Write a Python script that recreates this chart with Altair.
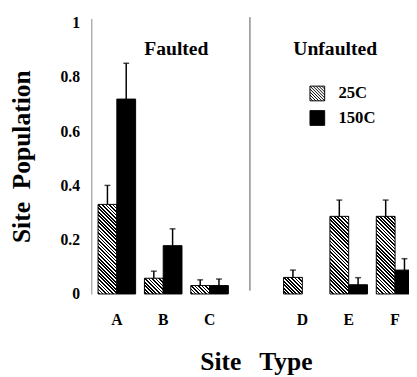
import altair as alt

# ---- data ----
sites = ["A", "B", "C", "D", "E", "F"]
temps = ["25C", "150C"]
pop_25 = [0.33, 0.058, 0.031, 0.061, 0.286, 0.286]
err_25 = [0.07, 0.026, 0.021, 0.027, 0.06, 0.06]
pop_150 = [0.718, 0.178, 0.031, 0.0, 0.034, 0.088]
err_150 = [0.132, 0.062, 0.024, 0.0, 0.026, 0.042]
site_order = ["A", "B", "C", "gap", "D", "E", "F"]
y_ticks = [0, 0.2, 0.4, 0.6, 0.8, 1]

# ---- layout / style ----
SERIF = "Liberation Serif"
W, H = 324, 281
YMAX = 1.015
STEP = 47.3
R0 = 2.35
PAD_IN = 0.19
BAR_W = STEP * (1 - PAD_IN) / 2
PERIOD = 2.55  # hatch period (perpendicular px)


def hatch_gradient(v):
    h = max(v * H / YMAX, 1.0)
    w = BAR_W
    k = (w + h) / (w * w + h * h)
    n = (w + h) / (2 ** 0.5 * PERIOD)
    stops = []
    i = 0
    while i / n < 1:
        a = i / n
        b = min((i + 0.5) / n, 1)
        c = min((i + 1) / n, 1)
        stops += [{"offset": a, "color": "black"}, {"offset": b, "color": "black"},
                  {"offset": b, "color": "white"}, {"offset": c, "color": "white"}]
        i += 1
    return {"gradient": "linear", "x1": 1, "y1": 0, "x2": 1 - k * w, "y2": k * h,
            "stops": stops}


records = []
for s, p25, e25, p150, e150 in zip(sites, pop_25, err_25, pop_150, err_150):
    records.append({"site": s, "temp": "25C", "pop": p25, "err": e25,
                    "top": p25 + e25, "fill": hatch_gradient(p25)})
    records.append({"site": s, "temp": "150C", "pop": p150, "err": e150,
                    "top": p150 + e150, "fill": "black"})

# legend hatch symbol path
segs = ["M-1,-1H1V1H-1Z"]
c = -1.6
while c < 1.61:
    x0 = max(-1, -1 - c)
    x1 = min(1, 1 - c)
    segs.append(f"M{x0:.3f},{x0 + c:.3f}L{x1:.3f},{x1 + c:.3f}")
    c += 0.4
HATCH_PATH = "".join(segs)

xscale = alt.Scale(domain=site_order, range=[R0, R0 + 7 * STEP],
                   paddingInner=PAD_IN, paddingOuter=PAD_IN / 2)
xaxis = alt.Axis(labelExpr="datum.value == 'gap' ? '' : datum.value",
                 domain=False, ticks=False, tickSize=0, labelAngle=0,
                 labelFont=SERIF, labelFontSize=16, labelFontWeight="bold",
                 labelColor="black", labelPadding=18,
                 titleFont=SERIF, titleFontSize=26, titleFontWeight="bold",
                 titleColor="black", titleY=77, titleBaseline="alphabetic")
XT = "Site\u00a0\u00a0\u2009Type"
yscale = alt.Scale(domain=[0, YMAX], nice=False)
yaxis = alt.Axis(values=y_ticks, format=".1~f", ticks=False, tickSize=0,
                 grid=False, domainColor="#888", domainWidth=1,
                 labelFont=SERIF, labelFontSize=16, labelFontWeight="bold",
                 labelColor="black", labelPadding=12,
                 titleFont=SERIF, titleFontSize=26, titleFontWeight="bold",
                 titleColor="black", titleX=-63, titleBaseline="alphabetic")
YT = "Site\u00a0\u00a0Population"

X = alt.X("site:N", scale=xscale, axis=xaxis, title=XT)
XO = alt.XOffset("temp:N", scale=alt.Scale(domain=temps))

base = alt.Chart(alt.Data(values=records))

bars = base.mark_bar(stroke="black", strokeWidth=1).encode(
    x=X, xOffset=XO,
    y=alt.Y("pop:Q", scale=yscale, axis=yaxis, title=YT),
    fill=alt.Fill("fill:N", scale=None),
).transform_filter("datum.pop > 0")

err_lines = base.mark_rule(color="black", strokeWidth=1.5).encode(
    x=X, xOffset=XO,
    y=alt.Y("pop:Q", scale=yscale, axis=yaxis, title=YT),
    y2="top:Q",
).transform_filter("datum.err > 0")

caps = base.mark_tick(color="black", thickness=1.5, size=6, orient="horizontal").encode(
    x=X, xOffset=XO,
    y=alt.Y("top:Q", scale=yscale, axis=yaxis, title=YT),
).transform_filter("datum.err > 0")

divider = alt.Chart(alt.Data(values=[{"site": "gap"}])).mark_rule(
    color="#555", strokeWidth=1).encode(
    x=alt.X("site:N", scale=xscale, axis=xaxis, title=XT, bandPosition=0.34),
    y=alt.datum(1.02), y2=alt.datum(0.012),
)


def label_layer(site, text, bandpos):
    return alt.Chart(alt.Data(values=[{"site": site, "label": text}])).mark_text(
        font=SERIF, fontSize=20, fontWeight="bold", color="black",
        baseline="alphabetic", align="center").encode(
        x=alt.X("site:N", scale=xscale, axis=xaxis, title=XT, bandPosition=bandpos),
        y=alt.datum(0.88),
        text="label:N",
    )


faulted = label_layer("B", "Faulted", 0.85)
unfaulted = label_layer("E", "Unfaulted", 0.14)

leg = alt.Legend(orient="none", legendX=222, legendY=68, title=None,
                 labelFont=SERIF, labelFontSize=17, labelFontWeight="bold",
                 labelColor="black", symbolSize=225, labelOffset=13,
                 rowPadding=6, symbolOpacity=1, symbolStrokeColor="black",
                 symbolStrokeWidth=1)
legend_layer = alt.Chart(alt.Data(values=[{"temp": t} for t in temps])).mark_point(
    filled=True, opacity=0, stroke="black", strokeWidth=1).encode(
    shape=alt.Shape("temp:N", scale=alt.Scale(domain=temps, range=[HATCH_PATH, "square"]), legend=leg),
    fill=alt.Fill("temp:N", scale=alt.Scale(domain=temps, range=["white", "black"]), legend=leg),
)

chart = alt.layer(divider, bars, err_lines, caps, faulted, unfaulted, legend_layer).properties(
    width=W, height=H,
    autosize=alt.AutoSizeParams(type="none"),
    padding={"left": 85, "top": 7, "right": 0, "bottom": 81},
    background="white",
).configure_view(stroke=None)

chart.save("out.html", embed_options={"renderer": "svg", "actions": False})
